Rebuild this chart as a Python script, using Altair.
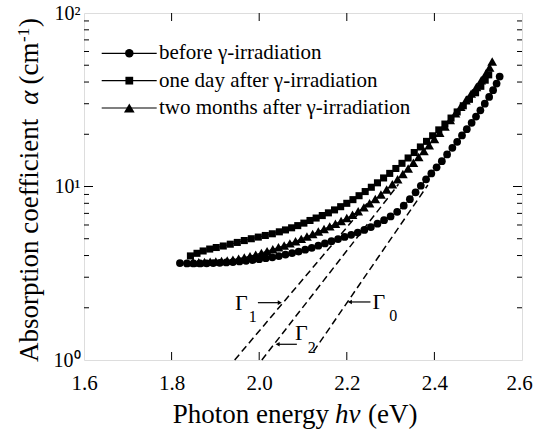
import altair as alt
import pandas as pd

# ---------------- data ----------------
series_names = ["before γ-irradiation", "one day after γ-irradiation",
                "two months after γ-irradiation"]

before_E = [1.819, 1.835, 1.850, 1.865, 1.880, 1.895, 1.910, 1.925, 1.940, 1.955,
            1.970, 1.985, 2.000, 2.015, 2.030, 2.045, 2.060, 2.075, 2.090, 2.105,
            2.120, 2.135, 2.150, 2.165, 2.180, 2.195, 2.210, 2.225, 2.240, 2.255,
            2.270, 2.285, 2.300, 2.315, 2.330, 2.344, 2.357, 2.369, 2.381, 2.393,
            2.405, 2.417, 2.429, 2.441, 2.452, 2.463, 2.474, 2.485, 2.495, 2.505,
            2.515, 2.525, 2.534, 2.542, 2.549]
before_a = [3.62, 3.60, 3.60, 3.60, 3.61, 3.62, 3.63, 3.65, 3.67, 3.70,
            3.73, 3.77, 3.81, 3.86, 3.91, 3.97, 4.05, 4.13, 4.22, 4.32,
            4.43, 4.56, 4.70, 4.84, 4.98, 5.12, 5.27, 5.43, 5.62, 5.84,
            6.10, 6.40, 6.72, 7.15, 7.75, 8.45, 9.25, 10.1, 11.0, 11.9,
            12.9, 14.0, 15.3, 16.7, 18.1, 19.7, 21.4, 23.3, 25.3, 27.5,
            30.0, 32.8, 35.9, 39.2, 43.0]

oneday_E = [1.843, 1.858, 1.872, 1.887, 1.902, 1.918, 1.934, 1.950, 1.966, 1.982,
            1.998, 2.014, 2.030, 2.046, 2.060, 2.074, 2.088, 2.102, 2.116, 2.130,
            2.144, 2.158, 2.172, 2.186, 2.200, 2.214, 2.228, 2.242, 2.256, 2.270,
            2.284, 2.298, 2.312, 2.326, 2.340, 2.354, 2.368, 2.382, 2.396, 2.410,
            2.424, 2.438, 2.452, 2.466, 2.480, 2.494, 2.506, 2.516, 2.524]
oneday_a = [3.98, 4.12, 4.25, 4.36, 4.45, 4.54, 4.65, 4.76, 4.88, 5.00,
            5.11, 5.22, 5.34, 5.48, 5.62, 5.78, 5.95, 6.15, 6.37, 6.58,
            6.80, 7.05, 7.33, 7.65, 8.00, 8.40, 8.85, 9.35, 9.90, 10.5,
            11.2, 11.9, 12.7, 13.6, 14.6, 15.7, 16.9, 18.2, 19.6, 21.2,
            22.9, 24.8, 26.9, 29.2, 31.8, 34.7, 37.8, 41.0, 44.0]

twomonth_E = [1.849, 1.862, 1.875, 1.888, 1.901, 1.914, 1.927, 1.940, 1.953, 1.966,
              1.979, 1.992, 2.005, 2.018, 2.031, 2.044, 2.057, 2.070, 2.083, 2.096,
              2.109, 2.122, 2.135, 2.148, 2.161, 2.174, 2.187, 2.200, 2.213, 2.226,
              2.239, 2.252, 2.265, 2.278, 2.291, 2.304, 2.316, 2.328, 2.340, 2.352,
              2.364, 2.376, 2.388, 2.400, 2.412, 2.424, 2.436, 2.448, 2.460, 2.472,
              2.484, 2.496, 2.507, 2.518, 2.526, 2.532]
twomonth_a = [3.66, 3.66, 3.67, 3.68, 3.70, 3.72, 3.75, 3.79, 3.84, 3.90,
              3.97, 4.05, 4.14, 4.24, 4.35, 4.46, 4.57, 4.70, 4.84, 4.99,
              5.15, 5.32, 5.50, 5.69, 5.89, 6.10, 6.33, 6.58, 6.87, 7.20,
              7.58, 8.00, 8.47, 9.00, 9.60, 10.3, 11.0, 11.8, 12.7, 13.7,
              14.8, 16.0, 17.3, 18.8, 20.4, 22.2, 24.2, 26.4, 28.8, 31.4,
              34.3, 37.5, 41.0, 45.0, 48.5, 52.5]

# linear fits (dashed lines), endpoints
fit_names = ["Γ1", "Γ2", "Γ0"]
fit_E_start = [1.944, 2.006, 2.124]
fit_a_start = [1.0, 1.0, 1.12]
fit_E_end = [2.250, 2.318, 2.385]
fit_a_end = [8.2, 10.3, 10.2]

# annotation labels Γ with subscripts and arrows
gamma_subs = ["1", "2", "0"]
gamma_E = [1.959, 2.096, 2.273]
gamma_a = [2.12, 1.44, 2.17]
sub_E = [1.985, 2.120, 2.306]
sub_a = [1.76, 1.18, 1.80]
arrow_E_tail = [1.997, 2.086, 2.254]
arrow_E_head = [2.047, 2.042, 2.207]
arrow_a = [2.14, 1.232, 2.16]
arrow_dir = ["triangle-right", "triangle-left", "triangle-left"]

x_ticks = [1.6, 1.8, 2.0, 2.2, 2.4, 2.6]
x_inner_ticks = [1.8, 2.0, 2.2, 2.4]
y_ticks = [1, 10, 100]
y_tick_labels = ["10⁰", "10¹", "10²"]
y_major_inner = [10]
y_minor = [2, 3, 4, 5, 6, 7, 8, 9, 20, 30, 40, 50, 60, 70, 80, 90]

# ---------------- tables ----------------
W, H = 438, 347
FONT = "Liberation Serif"

rows = []
for name, Es, As in zip(series_names, [before_E, oneday_E, twomonth_E],
                        [before_a, oneday_a, twomonth_a]):
    for e, a in zip(Es, As):
        rows.append({"series": name, "E": e, "alpha": a})
curves = pd.DataFrame(rows)

fit_rows = []
for n, e0, a0, e1, a1 in zip(fit_names, fit_E_start, fit_a_start, fit_E_end, fit_a_end):
    fit_rows.append({"fit": n, "E": e0, "alpha": a0})
    fit_rows.append({"fit": n, "E": e1, "alpha": a1})
fits = pd.DataFrame(fit_rows)

gam = pd.DataFrame({"E": gamma_E, "alpha": gamma_a, "t": ["Γ"] * 3})
subs = pd.DataFrame({"E": sub_E, "alpha": sub_a, "t": gamma_subs})
arrows = pd.DataFrame({"E": arrow_E_tail, "E2": arrow_E_head, "alpha": arrow_a})
heads = pd.DataFrame({"E": arrow_E_head, "alpha": arrow_a, "dir": arrow_dir})

xt = pd.DataFrame({"E": x_inner_ticks})
ytM = pd.DataFrame({"alpha": y_major_inner})
ytm = pd.DataFrame({"alpha": y_minor})

label_expr = " : ".join(
    f"datum.value == {v} ? '{l}'" for v, l in zip(y_ticks[:-1], y_tick_labels[:-1])
) + f" : '{y_tick_labels[-1]}'"

xs = alt.Scale(domain=[1.6, 2.6], nice=False, zero=False)
ys = alt.Scale(type="log", domain=[1, 100], nice=False)
x_axis = alt.Axis(values=x_ticks, format=".1f", ticks=False, domain=False, grid=False,
                  labelFontSize=21, labelPadding=12, labelFlush=False, title=None,
                  labelColor="black", labelFont=FONT,
                  labelOffset={"condition": {"test": "datum.value > 2.55", "value": -3},
                               "value": 0})
y_axis = alt.Axis(values=y_ticks, labelExpr=label_expr, ticks=False, domain=False,
                  grid=False, labelFontSize=20, labelPadding=4, labelFlush=False,
                  title=None, labelColor="black", labelFont=FONT)
X = alt.X("E:Q", scale=xs, axis=x_axis)
Y = alt.Y("alpha:Q", scale=ys, axis=y_axis)

marker_shapes = ["circle", "square", "triangle-up"]
marker_sizes = [60, 50, 95]


def series_points(name, shape, size):
    return alt.Chart(curves).transform_filter(
        alt.datum.series == name
    ).mark_point(filled=True, color="black", opacity=1, shape=shape, size=size).encode(
        x=X, y=Y)


lines = alt.Chart(curves).mark_line(color="black", strokeWidth=1).encode(
    x=X, y=Y, detail="series:N")
pts = [series_points(n, s, z) for n, s, z in zip(series_names, marker_shapes, marker_sizes)]
dashed = alt.Chart(fits).mark_line(color="black", strokeWidth=1.5,
                                   strokeDash=[7, 4]).encode(x=X, y=Y, detail="fit:N")

gam_txt = alt.Chart(gam).mark_text(font=FONT, fontSize=22, color="black",
                                   align="center", baseline="middle").encode(
    x=X, y=Y, text="t:N")
sub_txt = alt.Chart(subs).mark_text(font=FONT, fontSize=16, color="black",
                                    align="center", baseline="middle").encode(
    x=X, y=Y, text="t:N")
arr = alt.Chart(arrows).mark_rule(color="black", strokeWidth=1.2).encode(
    x=X, x2="E2:Q", y=Y)
arr_head = alt.Chart(heads).mark_point(filled=True, color="black", opacity=1, size=22).encode(
    x=X, y=Y, shape=alt.Shape("dir:N", scale=None, legend=None))

tick_b = alt.Chart(xt).mark_rule(color="black", strokeWidth=1).encode(
    x=X, y=alt.value(H), y2=alt.value(H - 8))
tick_t = alt.Chart(xt).mark_rule(color="black", strokeWidth=1).encode(
    x=X, y=alt.value(0), y2=alt.value(8))
tick_lM = alt.Chart(ytM).mark_rule(color="black", strokeWidth=1).encode(
    y=Y, x=alt.value(0), x2=alt.value(9))
tick_rM = alt.Chart(ytM).mark_rule(color="black", strokeWidth=1).encode(
    y=Y, x=alt.value(W), x2=alt.value(W - 9))
tick_lm = alt.Chart(ytm).mark_rule(color="black", strokeWidth=1).encode(
    y=Y, x=alt.value(0), x2=alt.value(5))
tick_rm = alt.Chart(ytm).mark_rule(color="black", strokeWidth=1).encode(
    y=Y, x=alt.value(W), x2=alt.value(W - 5))

main = alt.layer(dashed, lines, *pts, gam_txt, sub_txt, arr, arr_head,
                 tick_b, tick_t, tick_lM, tick_rM, tick_lm, tick_rm)

# ---------------- legend ----------------
leg = pd.DataFrame({"series": series_names, "row": [0, 1, 2]})
LY = alt.Y("row:Q", scale=alt.Scale(domain=[0, 2], range=[40.3, 95]), axis=None)
leg_line = alt.Chart(leg).mark_rule(color="black", strokeWidth=1.2).encode(
    y=LY, x=alt.value(17.7), x2=alt.value(72.7))
leg_pts = [
    alt.Chart(leg).transform_filter(alt.datum.series == n).mark_point(
        filled=True, color="black", opacity=1, shape=s, size=z * 1.2
    ).encode(y=LY, x=alt.value(45.3))
    for n, s, z in zip(series_names, marker_shapes, marker_sizes)
]
leg_txt = alt.Chart(leg).mark_text(font=FONT, fontSize=21, color="black",
                                   align="left", baseline="middle").encode(
    y=LY, x=alt.value(75), text="series:N")
legend = alt.layer(leg_line, *leg_pts, leg_txt)

# ---------------- axis titles (mixed styles) ----------------
one = pd.DataFrame({"k": [0]})


def txt(s, x, y, size=27, italic=False, align="left", angle=0, baseline="alphabetic"):
    kw = dict(font=FONT, fontSize=size, color="black", align=align,
              baseline=baseline, text=s)
    if italic:
        kw["fontStyle"] = "italic"
    if angle:
        kw["angle"] = angle
    return alt.Chart(one).mark_text(**kw).encode(x=alt.value(x), y=alt.value(y))


titles = alt.layer(
    txt("Photon energy", 245, 410, align="right"),
    txt("hν", 251, 410, italic=True),
    txt("(eV)", 284, 410),
    txt("Absorption coefficient", -46, 349, angle=270),
    txt("α", -46, 91.8, italic=True, angle=270),
    txt("(cm", -46, 71.5, angle=270),
    txt("-1", -55, 29, size=17, angle=270),
    txt(")", -46, 14, angle=270),
)

chart = alt.layer(main, legend, titles).resolve_scale(y="independent").properties(
    width=W, height=H,
    autosize=alt.AutoSizeParams(type="none"),
    padding={"left": 84, "top": 13, "right": 11, "bottom": 76},
).configure_view(stroke="black", strokeWidth=1.5).configure(font=FONT, background="white")

chart.save("out.html", embed_options={"renderer": "svg", "actions": False})
